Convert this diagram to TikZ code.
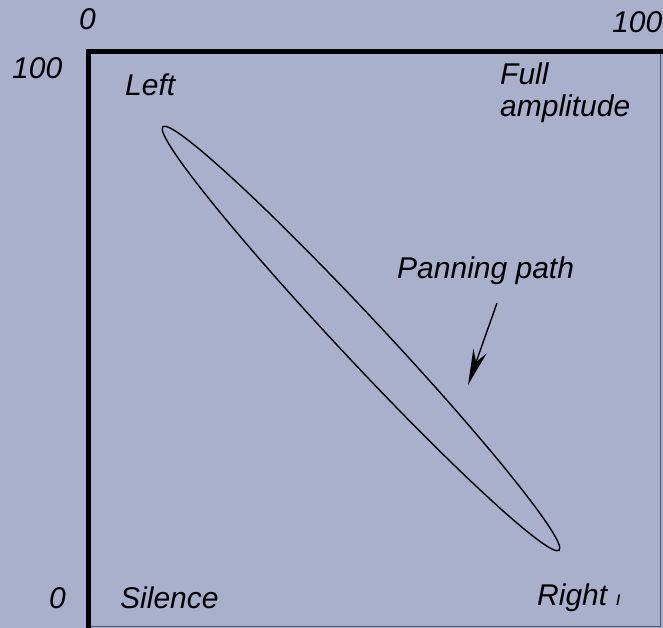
\documentclass[tikz,border=0pt]{standalone}
\usepackage{fontspec}
\setmainfont{Liberation Sans}
\usetikzlibrary{arrows.meta}
\definecolor{bg}{RGB}{168,176,204}
\definecolor{edge}{RGB}{80,86,106}
\tikzset{
  lbl/.style={anchor=base west, inner sep=0pt, font=\fontsize{30}{34}\selectfont\itshape},
  frame/.style={line width=4.5pt, line cap=rect},
  thinedge/.style={line width=1pt, draw=edge},
  pathline/.style={line width=1.4pt},
}
\begin{document}
\begin{tikzpicture}[x=1pt,y=-1pt]
\fill[bg] (0,0) rectangle (663,628);
\useasboundingbox (0,0) rectangle (663,628);
% frame
\coordinate (tl) at (88.5,51.5);
\coordinate (tr) at (663,51.5);
\coordinate (bl) at (88.5,628);
\draw[thinedge] (660,54) -- (660,626) -- (91,626);
\draw[frame] (bl) -- (tl) -- (tr);
% axis labels
\node[lbl] (x0) at (79,30) {0};
\node[lbl] (x100) at (612,33) {100};
\node[lbl] (y100) at (12,79) {100};
\node[lbl] (y0) at (49,608) {0};
% corner labels
\node[lbl] (left) at (125,96) {Left};
\node[lbl] (full) at (500,85) {Full};
\node[lbl] (ampl) at (500,117) {amplitude};
\node[lbl] (sil) at (120,608) {Silence};
\node[lbl] (right) at (537,605) {Right \fontsize{20}{24}\selectfont ı};
% panning path ellipse
\coordinate (pc) at (361,338.5);
\draw[pathline] (pc) ellipse [x radius=290, y radius=22, rotate=-46.9];
% label and arrow
\node[lbl] (pan) at (397,278) {Panning path};
\coordinate (arrstart) at (497,303);
\coordinate (arrend) at (468,385);
\draw[pathline, -{Stealth[length=36pt, width=14pt]}] (arrstart) -- (arrend);
\end{tikzpicture}
\end{document}
